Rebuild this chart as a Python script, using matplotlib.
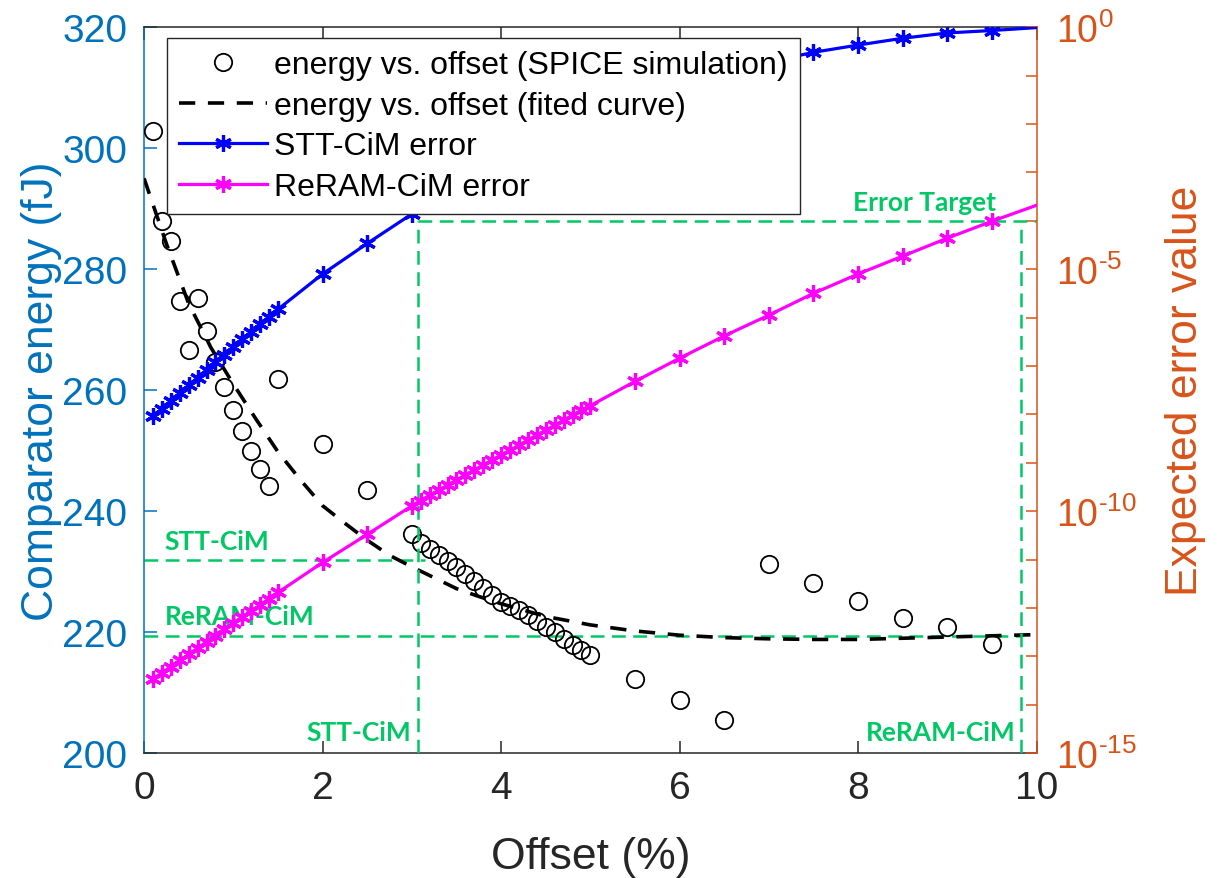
import numpy as np
import matplotlib
matplotlib.use("Agg")
import matplotlib.pyplot as plt
from matplotlib.ticker import FixedLocator, FixedFormatter, NullFormatter

plt.rcParams['font.family'] = ['Liberation Sans', 'DejaVu Sans']
plt.rcParams['mathtext.fontset'] = 'custom'
plt.rcParams['mathtext.rm'] = 'Liberation Sans'
plt.rcParams['mathtext.it'] = 'Liberation Sans:italic'

# energy vs. offset, SPICE points (left axis, fJ)
spice_x = [0.1, 0.2, 0.3, 0.4, 0.5, 0.6, 0.7, 0.8, 0.9, 1.0, 1.1, 1.2, 1.3, 1.4, 1.5,
           2.0, 2.5,
           3.0, 3.1, 3.2, 3.3, 3.4, 3.5, 3.6, 3.7, 3.8, 3.9, 4.0, 4.1, 4.2, 4.3, 4.4,
           4.5, 4.6, 4.7, 4.8, 4.9, 5.0,
           5.5, 6.0, 6.5, 7.0, 7.5, 8.0, 8.5, 9.0, 9.5]
spice_e = [302.9, 288.0, 284.7, 274.8, 266.7, 275.3, 269.8, 264.6, 260.6, 256.7, 253.3, 250.0, 246.9, 244.1, 261.8,
           251.1, 243.5,
           236.3, 234.8, 233.7, 232.8, 231.8, 230.7, 229.6, 228.5, 227.3, 226.2, 225.0, 224.3, 223.6, 222.9, 221.9,
           220.9, 220.0, 218.8, 217.8, 217.1, 216.2,
           212.3, 208.8, 205.5, 231.2, 228.1, 225.1, 222.4, 220.9, 218.0]

# fitted curve
fit_x = [0, 0.25, 0.5, 0.75, 1.0, 1.25, 1.5, 1.75, 2.0, 2.25, 2.5, 2.75, 3.0, 3.25, 3.5, 3.75,
         4.0, 4.5, 5.0, 5.5, 6.0, 6.5, 7.0, 7.5, 8.0, 8.5, 9.0, 9.5, 10.0]
fit_e = [295.0, 284.2, 274.3, 267.0, 261.0, 255.3, 249.8, 245.2, 240.9, 238.0, 235.2, 232.7, 230.8, 229.0, 227.2, 225.9,
         224.7, 222.6, 221.2, 220.2, 219.5, 219.1, 218.9, 218.8, 218.8, 219.0, 219.2, 219.4, 219.6]

# expected error (right axis), stored as log10 values
stt_x = [0.1, 0.2, 0.3, 0.4, 0.5, 0.6, 0.7, 0.8, 0.9, 1.0, 1.1, 1.2, 1.3, 1.4, 1.5,
         2.0, 2.5, 3.0, 3.5, 4.0, 4.5, 5.0, 5.5, 6.0, 6.5, 7.0, 7.5, 8.0, 8.5, 9.0, 9.5, 10.0]
stt_log = [-8.04, -7.88, -7.72, -7.56, -7.40, -7.24, -7.08, -6.92, -6.77, -6.61, -6.45, -6.29, -6.14, -5.98, -5.83,
           -5.10, -4.47, -3.86, -3.30, -2.80, -2.34, -1.93, -1.56, -1.24, -0.96, -0.72, -0.52, -0.37, -0.23, -0.12,
           -0.07, -0.01]

reram_x = [0.1, 0.2, 0.3, 0.4, 0.5, 0.6, 0.7, 0.8, 0.9, 1.0, 1.1, 1.2, 1.3, 1.4, 1.5,
           2.0, 2.5,
           3.0, 3.1, 3.2, 3.3, 3.4, 3.5, 3.6, 3.7, 3.8, 3.9, 4.0, 4.1, 4.2, 4.3, 4.4,
           4.5, 4.6, 4.7, 4.8, 4.9, 5.0,
           5.5, 6.0, 6.5, 7.0, 7.5, 8.0, 8.5, 9.0, 9.5, 10.0]
reram_log = [-13.47, -13.34, -13.21, -13.08, -12.96, -12.83, -12.70, -12.57, -12.44, -12.32, -12.19, -12.06, -11.94,
             -11.81, -11.68,
             -11.06, -10.48,
             -9.89, -9.78, -9.67, -9.57, -9.46, -9.36, -9.25, -9.15, -9.05, -8.94, -8.84, -8.74, -8.64, -8.53, -8.43,
             -8.33, -8.23, -8.12, -8.02, -7.92, -7.82,
             -7.32, -6.84, -6.38, -5.95, -5.50, -5.10, -4.73, -4.36, -4.01, -3.68]

# annotation levels
error_target = 1e-4
stt_offset = 3.07
reram_offset = 9.82
stt_energy = 232.0
reram_energy = 219.4

BLUE_AX = '#0072BD'
ORANGE_AX = '#D95319'
GREEN = '#00c864'
DARK = '#262626'

fig = plt.figure(figsize=(12.21, 8.79), dpi=100)
ax = fig.add_axes([0.118, 0.142, 0.731, 0.826])
ax2 = ax.twinx()

# left axis: energy
ax.plot(fit_x, fit_e, color='black', lw=2.6, linestyle=(0, (4.5, 3.5)), zorder=3)
ax.plot(spice_x, spice_e, linestyle='none', marker='o', ms=12.5, mfc='none', mec='black', mew=1.3, zorder=4)

ax.plot([0, 3.15], [stt_energy, stt_energy], color=GREEN, lw=1.8, linestyle=(0, (5.5, 3)), zorder=2)
ax.plot([0, reram_offset], [reram_energy, reram_energy], color=GREEN, lw=1.8, linestyle=(0, (5.5, 3)), zorder=2)

lab_kw = dict(color=GREEN, fontsize=19, fontweight='bold', family=['Lato', 'DejaVu Sans'], va='baseline')
ax.text(0.23, 233.8, 'STT-CiM', ha='left', **lab_kw)
ax.text(0.23, 221.3, 'ReRAM-CiM', ha='left', **lab_kw)
ax.text(2.99, 202.2, 'STT-CiM', ha='right', **lab_kw)
ax.text(9.76, 202.2, 'ReRAM-CiM', ha='right', **lab_kw)
ax.text(9.55, 289.8, 'Error Target', ha='right', **lab_kw)

ax.set_xlim(0, 10)
ax.set_ylim(200, 320)
ax.set_xticks([0, 2, 4, 6, 8, 10])
ax.set_yticks([200, 220, 240, 260, 280, 300, 320])

# right axis: error
stt_err = 10.0 ** np.array(stt_log)
reram_err = 10.0 ** np.array(reram_log)
l_stt, = ax2.plot(stt_x, stt_err, color='blue', lw=2.3, marker=(6, 2, 0), ms=12, mew=2.3,
                  markevery=slice(0, len(stt_x) - 1), zorder=3)
l_rer, = ax2.plot(reram_x, reram_err, color='magenta', lw=2.3, marker=(6, 2, 0), ms=12, mew=2.3,
                  markevery=slice(0, len(reram_x) - 1), zorder=3)

ax2.plot([stt_offset, stt_offset], [1e-15, error_target], color=GREEN, lw=1.8, linestyle=(0, (5.5, 3)), zorder=2)
ax2.plot([reram_offset, reram_offset], [1e-15, error_target], color=GREEN, lw=1.8, linestyle=(0, (5.5, 3)), zorder=2)
ax2.plot([stt_offset, 10], [error_target, error_target], color=GREEN, lw=1.8, linestyle=(0, (5.5, 3)), zorder=2)

ax2.set_yscale('log')
ax2.set_ylim(1e-15, 1)
hy = '\u2010'
ax2.yaxis.set_major_locator(FixedLocator([1e-15, 1e-10, 1e-5, 1]))
ax2.yaxis.set_major_formatter(FixedFormatter([r'$\mathregular{10^{%s15}}$' % hy, r'$\mathregular{10^{%s10}}$' % hy,
                                              r'$\mathregular{10^{%s5}}$' % hy, r'$\mathregular{10^{0}}$']))
ax2.yaxis.set_minor_locator(FixedLocator([10.0 ** k for k in range(-14, 0)]))
ax2.yaxis.set_minor_formatter(NullFormatter())

# spines and ticks (MATLAB yyaxis look)
for s in ['top', 'bottom']:
    ax.spines[s].set_color(DARK)
    ax.spines[s].set_linewidth(1.1)
    ax2.spines[s].set_visible(False)
ax.spines['left'].set_color(BLUE_AX)
ax.spines['left'].set_linewidth(1.1)
ax.spines['right'].set_visible(False)
ax2.spines['left'].set_visible(False)
ax2.spines['right'].set_color(ORANGE_AX)
ax2.spines['right'].set_linewidth(1.1)

ax.tick_params(axis='x', which='both', direction='in', top=True, length=9, width=1.1,
               colors=DARK, labelsize=28, pad=12)
ax.tick_params(axis='y', direction='in', left=True, right=False, length=9, width=1.1,
               colors=BLUE_AX, labelsize=28, pad=12)
ax2.tick_params(axis='y', which='both', direction='in', length=8, width=1.1,
                colors=ORANGE_AX, labelsize=27, pad=14)

ax.set_xlabel('Offset (%)', fontsize=32, color=DARK, labelpad=22)
ax.set_ylabel('Comparator energy (fJ)', fontsize=32, color=BLUE_AX, labelpad=0)
ax2.set_ylabel('Expected error value', fontsize=32, color=ORANGE_AX, labelpad=20)

# legend
h_spice = plt.Line2D([], [], linestyle='none', marker='o', ms=12.5, mfc='none', mec='black', mew=1.3)
h_fit = plt.Line2D([], [], color='black', lw=2.6, linestyle=(0, (4.5, 3.5)))
leg = ax2.legend([h_spice, h_fit, l_stt, l_rer],
                 ['energy vs. offset (SPICE simulation)', 'energy vs. offset (fited curve)',
                  'STT-CiM error', 'ReRAM-CiM error'],
                 loc='upper left', bbox_to_anchor=(0.026, 0.985), borderaxespad=0,
                 fontsize=23, handlelength=2.75, handletextpad=0.22, labelspacing=0.33,
                 borderpad=0.38, fancybox=False, framealpha=1, edgecolor=DARK)
leg.get_frame().set_linewidth(1.0)
leg.set_zorder(10)

fig.savefig('out.png', dpi=100)
